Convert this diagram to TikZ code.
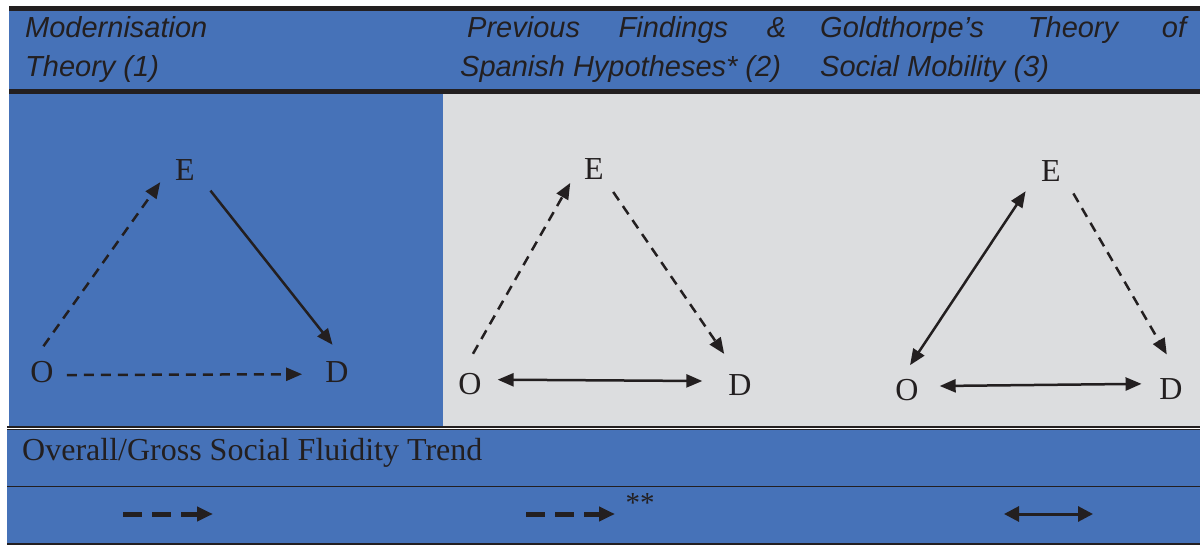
\documentclass[tikz,border=0pt]{standalone}
\usepackage{fontspec}
\setmainfont{Liberation Serif}
\newfontfamily\headfont{Liberation Sans}
\usetikzlibrary{arrows.meta}
\definecolor{cellblue}{RGB}{70,114,184}
\definecolor{cellgray}{RGB}{220,221,223}
\definecolor{inkcolor}{RGB}{35,31,32}

\begin{document}
\begin{tikzpicture}[
    x=1pt, y=-1pt,
    letter/.style={circle, inner sep=0pt, outer sep=0pt, minimum size=50pt, text=inkcolor, font=\fontsize{32}{36}\selectfont},
    headtext/.style={anchor=base west, inner sep=0pt, text=inkcolor, font=\headfont\itshape\fontsize{29}{34}\selectfont},
    link/.style={draw=inkcolor, line width=2.5pt, -{Triangle[length=16pt,width=13pt]}},
    twoway/.style={link, {Triangle[length=16pt,width=13pt]}-{Triangle[length=16pt,width=13pt]}},
    broken/.style={dash pattern=on 10pt off 7pt},
    keyarrow/.style={draw=inkcolor, line width=5pt, dash pattern=on 19pt off 10pt, -{Triangle[length=16pt,width=14pt]}},
    keytwoway/.style={draw=inkcolor, line width=3pt, {Triangle[length=15pt,width=15pt]}-{Triangle[length=15pt,width=15pt]}},
    tablerule/.style={draw=inkcolor}
]
    \useasboundingbox (0,0) rectangle (1202,545);

    % Cells
    \fill[cellblue] (9,10) rectangle (1200,92);
    \fill[cellblue] (9,92) rectangle (443,426);
    \fill[cellgray] (443,92) rectangle (1200,426);
    \fill[cellblue] (7,430) rectangle (1200,543);

    % Rules
    \draw[tablerule, line width=4.5pt] (9,8.5) -- (1200,8.5);
    \draw[tablerule, line width=4.5pt] (9,91.5) -- (1200,91.5);
    \draw[tablerule, line width=2pt] (7,426.5) -- (1200,426.5);
    \draw[tablerule, line width=1pt] (7,429.5) -- (1200,429.5);
    \draw[tablerule, line width=1.5pt] (7,486.5) -- (1200,486.5);
    \draw[tablerule, line width=2pt] (7,543.5) -- (1200,543.5);

    % Column headings
    \node[headtext] (h1a) at (25,38) {Modernisation};
    \node[headtext] (h1b) at (25,77) {Theory (1)};
    \node[headtext] (h2a) at (467,38) {\makebox[319pt][s]{Previous Findings \&}};
    \node[headtext] (h2b) at (460,77) {Spanish Hypotheses* (2)};
    \node[headtext] (h3a) at (820,38) {\makebox[366pt][s]{Goldthorpe’s Theory of}};
    \node[headtext] (h3b) at (820,77) {Social Mobility (3)};

    % Triangle 1
    \node[letter] (e1) at (185,170) {E};
    \node[letter] (o1) at (42,372) {O};
    \node[letter] (d1) at (337,372) {D};
    \draw[link, broken, shorten <=1pt, shorten >=3pt] (o1.88) -- (e1.203);
    \draw[link, shorten <=8pt, shorten >=3pt] (e1.-35) -- (d1.96);
    \draw[link, broken, shorten >=10pt] (o1.-7) -- (d1.185);

    % Triangle 2
    \node[letter] (e2) at (594,169) {E};
    \node[letter] (o2) at (470,384) {O};
    \node[letter] (d2) at (740,385) {D};
    \draw[link, broken, shorten <=6pt, shorten >=3pt] (o2.90) -- (e2.207);
    \draw[link, broken, shorten <=5pt, shorten >=10pt] (e2.-49) -- (d2.114);
    \draw[twoway, shorten <=3pt, shorten >=13pt] (o2.10) -- (d2.171);

    % Triangle 3
    \node[letter] (e3) at (1051,171) {E};
    \node[letter] (o3) at (907,390) {O};
    \node[letter] (d3) at (1171,389) {D};
    \draw[twoway, shorten >=8pt] (o3.83) -- (e3.213);
    \draw[link, broken, shorten <=7pt, shorten >=11pt] (e3.-41) -- (d3.87);
    \draw[twoway, shorten <=8pt, shorten >=5pt] (o3.9) -- (d3.168);

    % Trend row
    \node[anchor=base west, inner sep=0pt, text=inkcolor, font=\fontsize{32}{36}\selectfont] (trend) at (22,460) {Overall/Gross Social Fluidity Trend};
    \coordinate (k1a) at (123,514);
    \coordinate (k1b) at (213,514);
    \coordinate (k2a) at (526,514);
    \coordinate (k2b) at (615,514);
    \coordinate (k3a) at (1004,514);
    \coordinate (k3b) at (1093,514);
    \draw[keyarrow] (k1a) -- (k1b);
    \draw[keyarrow] (k2a) -- (k2b);
    \node[inner sep=0pt, text=inkcolor, font=\fontsize{29}{32}\selectfont] (stars) at (640,503) {**};
    \draw[keytwoway] (k3a) -- (k3b);
\end{tikzpicture}
\end{document}
